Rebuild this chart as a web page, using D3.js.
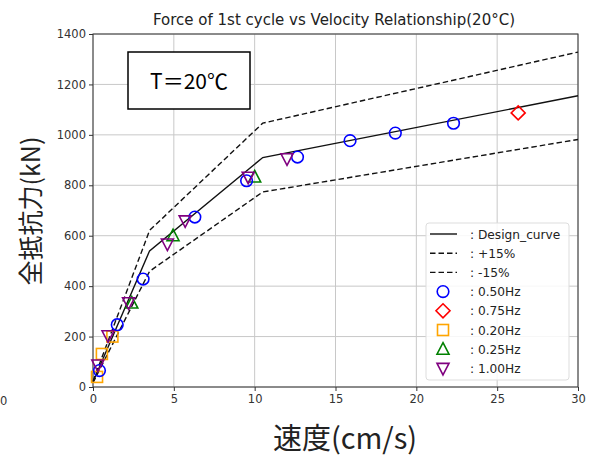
<!DOCTYPE html>
<html>
<head>
<meta charset="utf-8">
<script src="https://cdn.jsdelivr.net/npm/d3@7"></script>
<style>
  body { margin: 0; background: #fff; }
  svg { font-family: "DejaVu Sans", sans-serif; }
</style>
</head>
<body>
<svg width="597" height="456"></svg>
<script>
// design curve and the +-15% band
var designX = [0, 3.5, 10.5, 30];
var designY = [20, 540, 910, 1155];
var upperY = designY.map(function(v) { return v * 1.15; });
var lowerY = designY.map(function(v) { return v * 0.85; });

// measured points per frequency
var hz050 = [[0.4, 65], [1.5, 247], [3.1, 428], [6.3, 674], [9.5, 818], [12.65, 912], [15.9, 977], [18.7, 1007], [22.3, 1046]];
var hz075 = [[26.3, 1087]];
var hz020 = [[0.25, 40], [0.55, 131], [1.2, 200]];
var hz025 = [[2.4, 333], [4.95, 600], [10.0, 833]];
var hz100 = [[0.3, 87], [0.93, 203], [2.2, 334], [4.6, 567], [5.7, 659], [9.6, 832], [12.0, 905]];

var xTicks = [0, 5, 10, 15, 20, 25, 30];
var yTicks = [0, 200, 400, 600, 800, 1000, 1200, 1400];

var svg = d3.select("svg");
var x = d3.scaleLinear().domain([0, 30]).range([93, 578]);
var y = d3.scaleLinear().domain([0, 1400]).range([387, 34]);
var dash = "5.5,3";

// grid
svg.append("g").selectAll("line").data(xTicks).enter().append("line")
    .attr("x1", d => x(d)).attr("x2", d => x(d))
    .attr("y1", y(0)).attr("y2", y(1400))
    .style("stroke", "#c8c8c8").style("stroke-width", 1);
svg.append("g").selectAll("line").data(yTicks).enter().append("line")
    .attr("x1", x(0)).attr("x2", x(30))
    .attr("y1", d => y(d)).attr("y2", d => y(d))
    .style("stroke", "#c8c8c8").style("stroke-width", 1);

// axes
var xAxis = svg.append("g").attr("transform", "translate(0," + y(0) + ")")
    .call(d3.axisBottom(x).tickValues(xTicks).tickFormat(d3.format("d")).tickSize(4).tickPadding(4));
var yAxis = svg.append("g").attr("transform", "translate(" + x(0) + ",0)")
    .call(d3.axisLeft(y).tickValues(yTicks).tickFormat(d3.format("d")).tickSize(4).tickPadding(3));
[xAxis, yAxis].forEach(function(a) {
    a.select(".domain").remove();
    a.selectAll("text").style("font-size", "11.5px").style("fill", "#333")
        .style("font-family", "DejaVu Sans, sans-serif");
    a.selectAll("line").style("stroke", "#333");
});

svg.append("rect")
    .attr("x", x(0)).attr("y", y(1400))
    .attr("width", x(30) - x(0)).attr("height", y(0) - y(1400))
    .style("fill", "none").style("stroke", "#333").style("stroke-width", 1);

// curves
var line = d3.line().x(d => x(d[0])).y(d => y(d[1]));
function curve(ys, dsh) {
    svg.append("path")
        .datum(designX.map(function(v, i) { return [v, ys[i]]; }))
        .attr("d", line)
        .style("fill", "none").style("stroke", "#111").style("stroke-width", 1.4)
        .style("stroke-dasharray", dsh);
}
curve(designY, null);
curve(upperY, dash);
curve(lowerY, dash);

// markers
function marker(g, type, color) {
    if (type == "o") {
        g.append("circle").attr("r", 5.8);
    } else if (type == "D") {
        g.append("path").attr("d", "M0,-7L7,0L0,7L-7,0Z");
    } else if (type == "s") {
        g.append("rect").attr("x", -5.5).attr("y", -5.5).attr("width", 11).attr("height", 11);
    } else if (type == "^") {
        g.append("path").attr("d", "M0,-6.5L6,5L-6,5Z");
    } else {
        g.append("path").attr("d", "M0,6.5L6,-5L-6,-5Z");
    }
    g.selectAll("*").style("fill", "none").style("stroke", color).style("stroke-width", 1.6);
}

var series = [
    { data: hz020, type: "s", color: "orange", label: ": 0.20Hz" },
    { data: hz025, type: "^", color: "green", label: ": 0.25Hz" },
    { data: hz050, type: "o", color: "blue", label: ": 0.50Hz" },
    { data: hz075, type: "D", color: "red", label: ": 0.75Hz" },
    { data: hz100, type: "v", color: "purple", label: ": 1.00Hz" }
];
series.forEach(function(s) {
    s.data.forEach(function(p) {
        var g = svg.append("g").attr("transform", "translate(" + x(p[0]) + "," + y(p[1]) + ")");
        marker(g, s.type, s.color);
    });
});

// legend
var lg = svg.append("g").attr("transform", "translate(426,223)");
lg.append("rect").attr("width", 143).attr("height", 157).attr("rx", 3)
    .style("fill", "#fff").style("fill-opacity", 0.85)
    .style("stroke", "#ddd");
var entries = [
    { kind: "line", dash: null, label: ": Design_curve" },
    { kind: "line", dash: dash, label: ": +15%" },
    { kind: "line", dash: dash, label: ": -15%" },
    { kind: "m", s: series[2] },
    { kind: "m", s: series[3] },
    { kind: "m", s: series[0] },
    { kind: "m", s: series[1] },
    { kind: "m", s: series[4] }
];
entries.forEach(function(e, i) {
    var yy = 11 + i * 19.2;
    if (e.kind == "line") {
        lg.append("line").attr("x1", 4).attr("x2", 31).attr("y1", yy).attr("y2", yy)
            .style("stroke", "#111").style("stroke-width", 1.4).style("stroke-dasharray", e.dash);
    } else {
        marker(lg.append("g").attr("transform", "translate(17," + yy + ")"), e.s.type, e.s.color);
    }
    lg.append("text").attr("x", 44).attr("y", yy + 4.5)
        .style("font-size", "12.2px").style("fill", "#222")
        .text(e.label || e.s.label);
});

// texts
svg.append("text").attr("x", 334).attr("y", 25).attr("text-anchor", "middle")
    .style("font-size", "15px").style("fill", "#222")
    .text("Force of 1st cycle vs Velocity Relationship(20°C)");

svg.append("rect").attr("x", 128).attr("y", 52).attr("width", 122).attr("height", 57)
    .style("fill", "#fff").style("stroke", "#000").style("stroke-width", 1.5);
svg.append("text").attr("x", 189).attr("y", 89).attr("text-anchor", "middle")
    .style("font-family", "Noto Sans CJK JP, sans-serif").style("font-size", "21px")
    .text("T＝20℃");

svg.append("text")
    .attr("transform", "translate(40,211) rotate(-90)")
    .attr("text-anchor", "middle")
    .style("font-family", "Noto Sans CJK JP, sans-serif").style("font-size", "25px").style("fill", "#222")
    .text("全抵抗力(kN)");

svg.append("text").attr("x", 345).attr("y", 449).attr("text-anchor", "middle")
    .style("font-family", "Noto Sans CJK JP, sans-serif").style("font-size", "29px").style("fill", "#222")
    .text("速度(cm/s)");

svg.append("text").attr("x", 0).attr("y", 405)
    .style("font-size", "11.5px").style("fill", "#333").text("0");
</script>
</body>
</html>
